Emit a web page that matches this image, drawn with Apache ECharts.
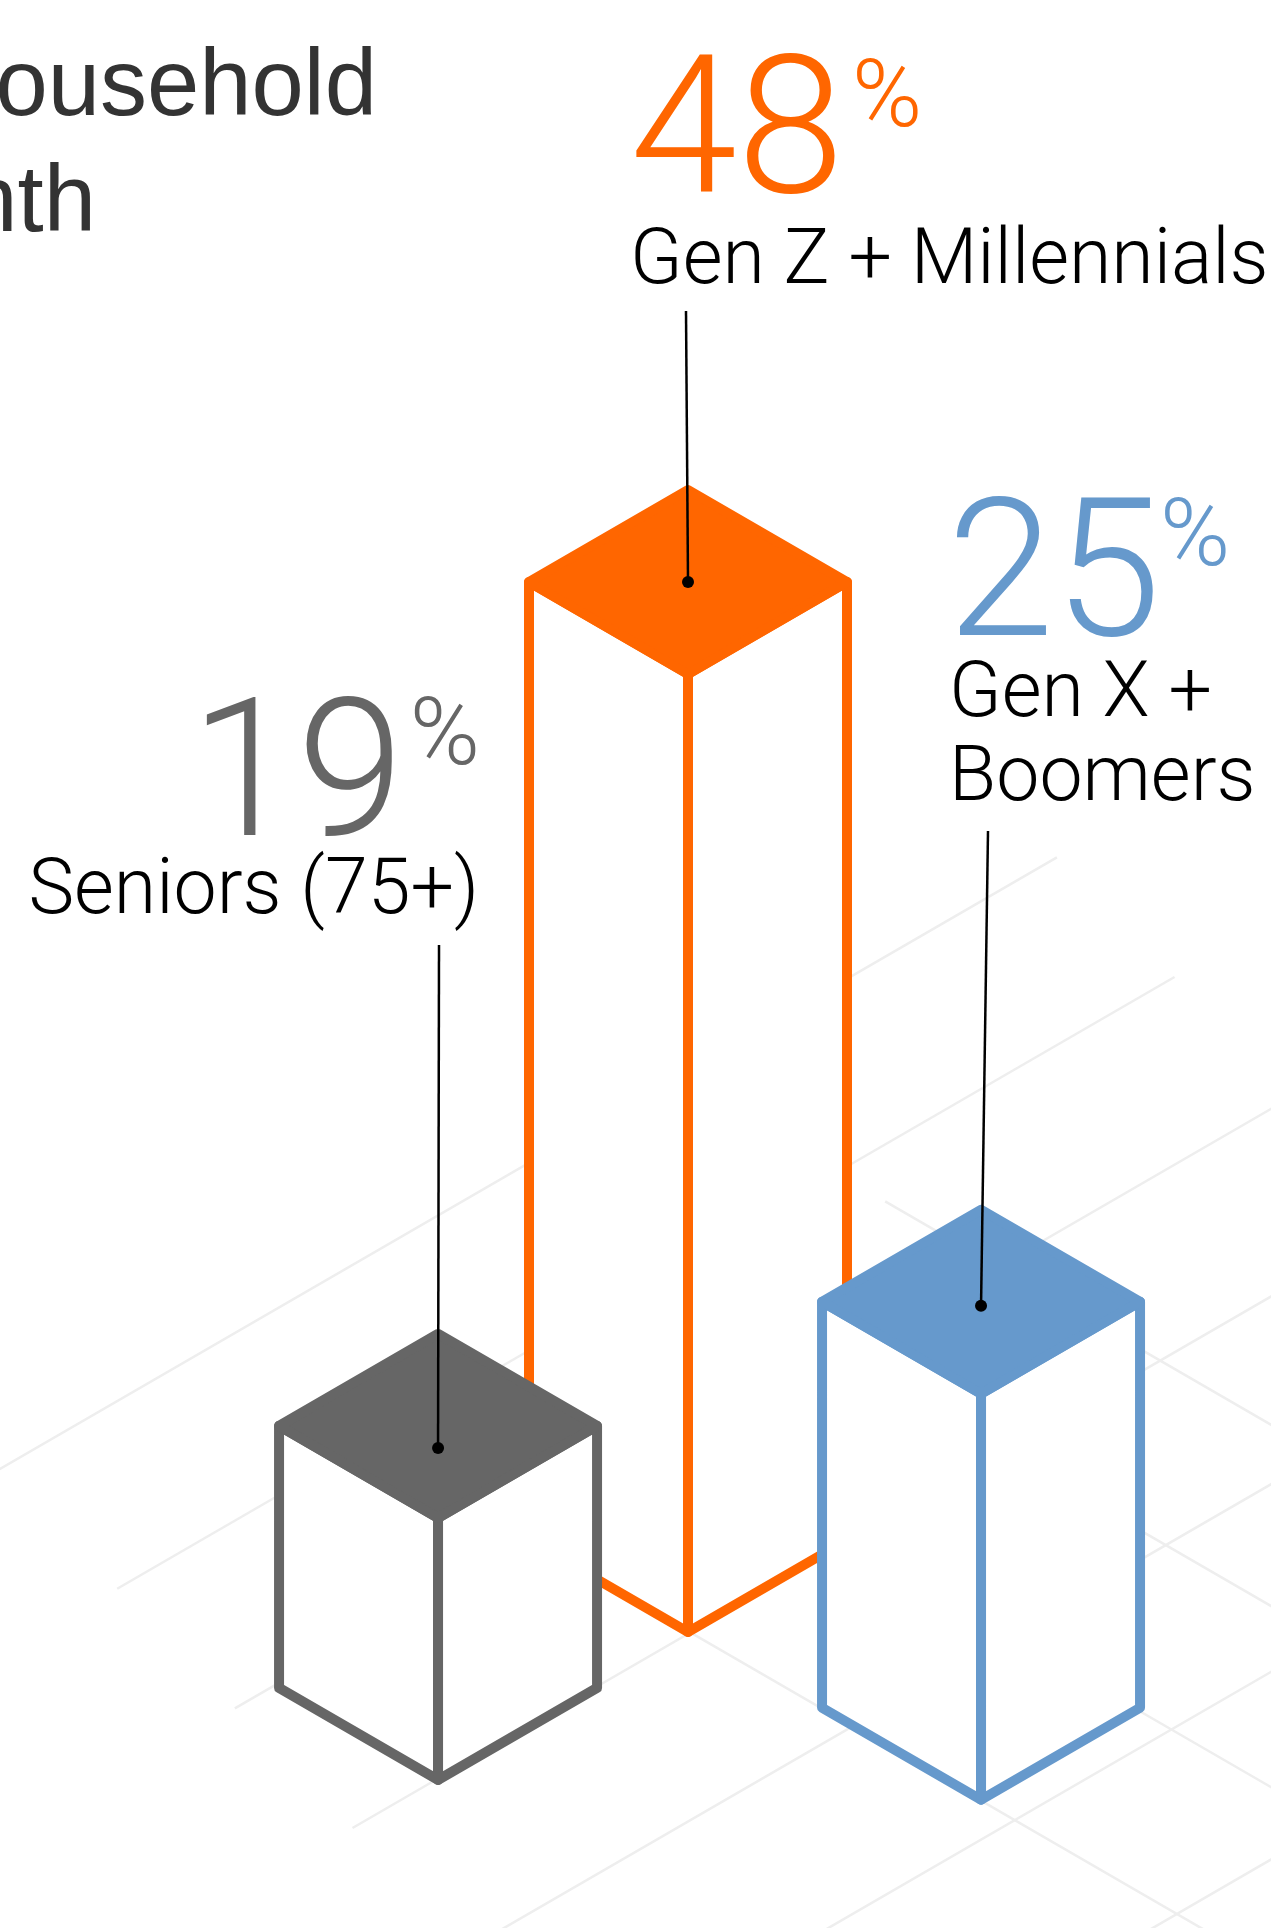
<!DOCTYPE html>
<html>
<head>
<meta charset="utf-8">
<script src="https://cdn.jsdelivr.net/npm/echarts@6/dist/echarts.min.js"></script>
<style>
  html, body { margin: 0; padding: 0; background: #ffffff; }
  #chart { width: 1271px; height: 1928px; }
</style>
</head>
<body>
<div id="chart"></div>
<script>
// ---- data ----
const categories = ['Seniors (75+)', 'Gen Z + Millennials', 'Gen X +\nBoomers'];
const shares = [19, 48, 25];
const percentSign = '%';
const titleLines = ['ousehold', 'nth'];

// ---- layout & style ----
// isometric floor: origin of the floor grid and half-size of one floor cell (px)
const FLOOR = { ox: 688, oy: 1632, w: 159, d: 92 };
const barColors = ['#666666', '#FF6600', '#6699CC'];
// floor cell (a along right-down axis, b along left-down axis) of each bar's front corner
const barSpots = [[0.018, 1.59], [0, 0], [1.833, -0.01]];
const pinDrop = [22, 0, 4];                 // where the pin sits inside each top face
const leaderTops = [[439, 945], [686, 311], [988, 831]];
const labelBoxes = [
  { align: 'right', numX: 404, numBase: 836, pctX: 480, pctTop: 697, textX: 479, textBase: 913 },
  { align: 'left',  numX: 630, numBase: 193, pctX: 852, pctTop: 59,  textX: 630, textBase: 283 },
  { align: 'left',  numX: 947, numBase: 636, pctX: 1160, pctTop: 498, textX: 949, textBase: 716 }
];
const NUM_SIZE = 193, PCT_SIZE = 95, LABEL_SIZE = 77, LABEL_LH = 84;
const STROKE = 10;
const ROBOTO_MID = 0.256; // alphabetic baseline below the em middle, Roboto
const SANS_MID = 0.3;     // same for Liberation Sans

function floorPoint(a, b) {
  return [FLOOR.ox + FLOOR.w * (a - b), FLOOR.oy + FLOOR.d * (a + b)];
}

function textAt(x, baseline, text, opt) {
  const lh = opt.lineHeight || opt.size;
  const mid = opt.mid !== undefined ? opt.mid : ROBOTO_MID;
  return {
    type: 'text',
    z2: 20,
    style: {
      text: text,
      x: x,
      y: baseline - lh / 2 - mid * opt.size,
      fill: opt.fill,
      font: (opt.weight || 300) + ' ' + opt.size + 'px ' + (opt.family || 'Roboto'),
      align: opt.align || 'left',
      verticalAlign: 'top',
      lineHeight: lh
    }
  };
}

// ---- floor grid lines (two isometric families) ----
const floorLines = [];
for (let k = 0; k < 7; k++) {
  const a = -3.05 + 1.02 * k;
  const b0 = 1.28 + 0.28 * k;
  floorLines.push([[a, b0], [a, b0 - 6.65]]);
}
for (let k = 0; k < 4; k++) {
  const b = -2.96 + 0.985 * k;
  const a0 = k === 0 ? -1.72 : -1.2;
  floorLines.push([[a0, b], [6, b]]);
}

function renderFloorLine(params) {
  const seg = floorLines[params.dataIndex];
  const p1 = floorPoint(seg[0][0], seg[0][1]);
  const p2 = floorPoint(seg[1][0], seg[1][1]);
  return {
    type: 'line',
    shape: { x1: p1[0], y1: p1[1], x2: p2[0], y2: p2[1] },
    style: { stroke: '#eeeeee', lineWidth: 2.5 }
  };
}

// ---- prisms ----
// the outer extent of each outlined prism (stroke included) spans its value on the y axis
function renderBar(params, api) {
  const i = api.value(0);
  const value = api.value(1);
  const H = api.coord([0, 0])[1] - api.coord([0, value])[1] - STROKE;
  const w = FLOOR.w, d = FLOOR.d;
  const h = H - 2 * d;
  const f = floorPoint(barSpots[i][0], barSpots[i][1]);
  const fx = f[0], fy = f[1];
  const color = barColors[i];

  const Fb = [fx, fy], Lb = [fx - w, fy - d], Rb = [fx + w, fy - d];
  const Ft = [fx, fy - h], Lt = [fx - w, fy - d - h], Rt = [fx + w, fy - d - h], Bt = [fx, fy - 2 * d - h];
  const faceStyle = { fill: '#ffffff', stroke: color, lineWidth: STROKE, lineJoin: 'round' };

  const pin = [fx, fy - h - d + pinDrop[i]];
  const lt = leaderTops[i];
  const box = labelBoxes[i];

  return {
    type: 'group',
    children: [
      { type: 'polygon', shape: { points: [Lb, Fb, Ft, Lt] }, style: faceStyle },
      { type: 'polygon', shape: { points: [Fb, Rb, Rt, Ft] }, style: faceStyle },
      { type: 'polygon', shape: { points: [Lt, Ft, Rt, Bt] },
        style: { fill: color, stroke: color, lineWidth: STROKE, lineJoin: 'round' } },
      { type: 'line', z2: 10, shape: { x1: pin[0], y1: pin[1], x2: lt[0], y2: lt[1] },
        style: { stroke: '#000000', lineWidth: 2.5 } },
      { type: 'circle', z2: 11, shape: { cx: pin[0], cy: pin[1], r: 6 }, style: { fill: '#000000' } },
      textAt(box.numX, box.numBase, String(shares[i]),
        { size: NUM_SIZE, fill: color, align: box.align }),
      textAt(box.pctX, box.pctTop + 0.711 * PCT_SIZE, percentSign,
        { size: PCT_SIZE, fill: color, align: box.align }),
      textAt(box.textX, box.textBase, categories[i],
        { size: LABEL_SIZE, lineHeight: LABEL_LH, fill: '#000000', align: box.align })
    ]
  };
}

// back-most bar first so nearer bars cover it
const drawOrder = [0, 1, 2].sort((p, q) =>
  (barSpots[p][0] + barSpots[p][1]) - (barSpots[q][0] + barSpots[q][1]));

const chart = echarts.init(document.getElementById('chart'), null, { renderer: 'canvas' });
chart.setOption({
  animation: false,
  backgroundColor: '#ffffff',
  grid: { left: 0, right: 0, top: 0, height: 1920 },
  xAxis: { type: 'value', min: 0, max: 1, show: false },
  yAxis: { type: 'value', min: 0, max: 80, show: false },
  graphic: [
    textAt(377, 117, titleLines[0], { size: 94, weight: 400, family: '"Liberation Sans"', mid: SANS_MID, fill: '#333333', align: 'right' }),
    textAt(96, 233, titleLines[1], { size: 94, weight: 400, family: '"Liberation Sans"', mid: SANS_MID, fill: '#333333', align: 'right' })
  ],
  series: [
    {
      type: 'custom',
      z: 1,
      silent: true,
      renderItem: renderFloorLine,
      data: floorLines.map((_, i) => [i])
    },
    {
      type: 'custom',
      z: 2,
      silent: true,
      renderItem: renderBar,
      data: drawOrder.map(i => [i, shares[i]])
    }
  ]
});
</script>
</body>
</html>
